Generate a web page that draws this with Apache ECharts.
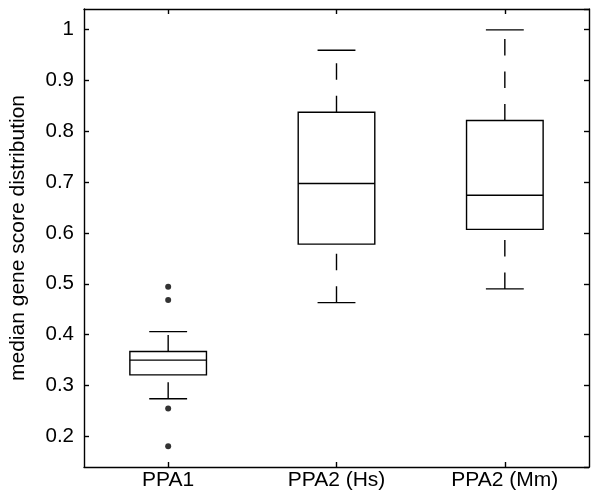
<!DOCTYPE html>
<html>
<head>
<meta charset="utf-8">
<script src="https://cdn.jsdelivr.net/npm/echarts@6/dist/echarts.min.js"></script>
<style>
html,body{margin:0;padding:0;background:#fff;}
#chart{width:600px;height:502px;}
</style>
</head>
<body>
<div id="chart"></div>
<script>
// Data
var categories = ['PPA1', 'PPA2 (Hs)', 'PPA2 (Mm)'];
var whiskerLow  = [0.274, 0.463, 0.490];
var quartile1   = [0.321, 0.578, 0.607];
var medians     = [0.350, 0.697, 0.674];
var quartile3   = [0.367, 0.837, 0.821];
var whiskerHigh = [0.406, 0.959, 0.999];
var outlierCat  = [0, 0, 0, 0];
var outlierVal  = [0.494, 0.468, 0.255, 0.181];
var yMin = 0.14, yMax = 1.04;

var boxData = categories.map(function (c, i) {
  return [i, whiskerLow[i], quartile1[i], medians[i], quartile3[i], whiskerHigh[i]];
});
var outlierData = outlierVal.map(function (v, i) { return [outlierCat[i], v]; });

var FONT = '"Liberation Sans", Arial, Helvetica, sans-serif';
var LW = 1.4;

function renderBox(params, api) {
  var idx = api.value(0);
  var band = api.size([1, 0])[0];
  var bw = band * 0.455;
  var cw = band * 0.225;
  var pMin = api.coord([idx, api.value(1)]);
  var pQ1 = api.coord([idx, api.value(2)]);
  var pMed = api.coord([idx, api.value(3)]);
  var pQ3 = api.coord([idx, api.value(4)]);
  var pMax = api.coord([idx, api.value(5)]);
  var cx = pMed[0];
  var solid = { stroke: '#000', lineWidth: LW, fill: null };
  var dashed = { stroke: '#000', lineWidth: LW, lineDash: [16.5, 16], lineDashOffset: 0 };
  return {
    type: 'group',
    children: [
      { type: 'rect', shape: { x: cx - bw / 2, y: pQ3[1], width: bw, height: pQ1[1] - pQ3[1] }, style: solid },
      { type: 'line', shape: { x1: cx - bw / 2, y1: pMed[1], x2: cx + bw / 2, y2: pMed[1] }, style: solid },
      { type: 'line', shape: { x1: cx, y1: pQ3[1], x2: cx, y2: pMax[1] }, style: dashed },
      { type: 'line', shape: { x1: cx, y1: pMin[1], x2: cx, y2: pQ1[1] }, style: dashed },
      { type: 'line', shape: { x1: cx - cw / 2, y1: pMax[1], x2: cx + cw / 2, y2: pMax[1] }, style: solid },
      { type: 'line', shape: { x1: cx - cw / 2, y1: pMin[1], x2: cx + cw / 2, y2: pMin[1] }, style: solid }
    ]
  };
}

var axisLineStyle = { color: '#000', width: 1.4 };
var chart = echarts.init(document.getElementById('chart'), null, { renderer: 'canvas' });
chart.setOption({
  animation: false,
  backgroundColor: '#fff',
  grid: { left: 82, right: 11, top: 9, bottom: 35, containLabel: false },
  xAxis: [
    {
      type: 'category', data: categories, position: 'bottom', boundaryGap: true,
      axisLine: { show: true, lineStyle: axisLineStyle },
      axisTick: { show: true, inside: true, length: 5, alignWithLabel: true, lineStyle: axisLineStyle },
      axisLabel: { color: '#000', fontSize: 21, fontFamily: FONT, margin: 3 },
      splitLine: { show: false }
    },
    {
      type: 'category', data: categories, position: 'top', boundaryGap: true,
      axisLine: { show: true, lineStyle: axisLineStyle },
      axisTick: { show: true, inside: true, length: 5, alignWithLabel: true, lineStyle: axisLineStyle },
      axisLabel: { show: false },
      splitLine: { show: false }
    }
  ],
  yAxis: [
    {
      type: 'value', min: yMin, max: yMax, splitNumber: 9, position: 'left',
      axisLine: { show: true, onZero: false, lineStyle: axisLineStyle },
      axisTick: { show: true, inside: true, length: 5, lineStyle: axisLineStyle },
      axisLabel: { color: '#000', fontSize: 20.5, fontFamily: FONT, margin: 10, showMinLabel: false, showMaxLabel: false },
      splitLine: { show: false },
      name: 'median gene score distribution', nameLocation: 'middle', nameGap: 55,
      nameTextStyle: { color: '#000', fontSize: 21, fontFamily: FONT }
    },
    {
      type: 'value', min: yMin, max: yMax, splitNumber: 9, position: 'right',
      axisLine: { show: true, onZero: false, lineStyle: axisLineStyle },
      axisTick: { show: true, inside: true, length: 5, lineStyle: axisLineStyle },
      axisLabel: { show: false },
      splitLine: { show: false }
    }
  ],
  series: [
    {
      type: 'custom', xAxisIndex: 0, yAxisIndex: 0,
      renderItem: renderBox,
      encode: { x: 0, y: [1, 2, 3, 4, 5] },
      data: boxData,
      silent: true
    },
    {
      type: 'scatter', xAxisIndex: 0, yAxisIndex: 0,
      symbol: 'circle', symbolSize: 6,
      itemStyle: { color: '#000' },
      data: outlierData,
      silent: true
    }
  ]
});
</script>
</body>
</html>
